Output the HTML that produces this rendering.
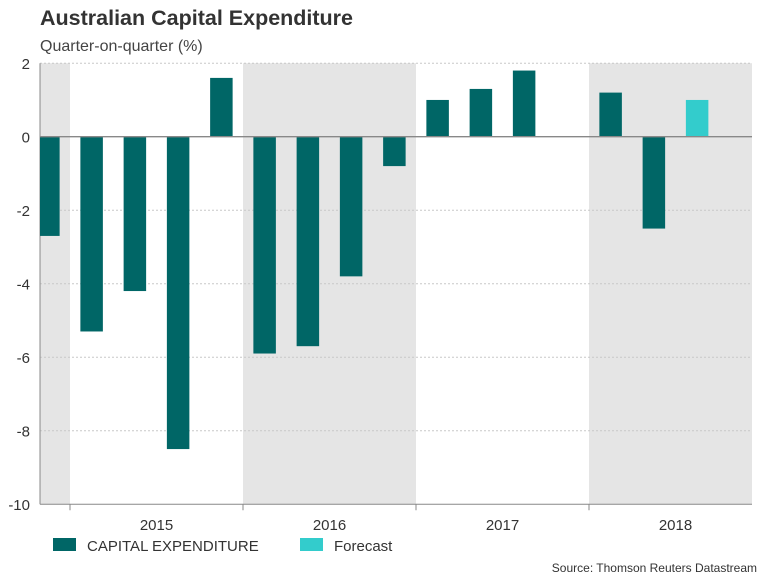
<!DOCTYPE html>
<html><head><meta charset="utf-8"><style>
body{margin:0;background:#fff;font-family:"Liberation Sans",sans-serif;}
svg text{font-family:"Liberation Sans",sans-serif;}
</style></head><body>
<svg width="768" height="576" xmlns="http://www.w3.org/2000/svg">
<defs><clipPath id="pc"><rect x="40" y="0" width="712" height="576"/></clipPath></defs>
<text x="40" y="25" font-size="21.5" font-weight="bold" fill="#333">Australian Capital Expenditure</text>
<text x="40" y="51" font-size="16" fill="#444">Quarter-on-quarter (%)</text>
<g id="plot"></g>
<g>
<rect x="53" y="538" width="23" height="13" fill="#006666"/>
<text x="87" y="551" font-size="15" fill="#333">CAPITAL EXPENDITURE</text>
<rect x="300" y="538" width="23" height="13" fill="#33cccc"/>
<text x="334" y="551" font-size="15" fill="#333">Forecast</text>
</g>
<text x="757" y="572" font-size="12" fill="#333" text-anchor="end">Source: Thomson Reuters Datastream</text>
</svg>
<script>
const quarterIndex=[-1,0,1,2,3,4,5,6,7,8,9,10,12,13];
const capexValues=[-2.7,-5.3,-4.2,-8.5,1.6,-5.9,-5.7,-3.8,-0.8,1.0,1.3,1.8,1.2,-2.5];
const forecastIndex=[14];
const forecastValues=[1.0];
const yTicks=[2,0,-2,-4,-6,-8,-10];
const years=["2015","2016","2017","2018"];
const NS="http://www.w3.org/2000/svg";
const L=40,R=752,Q0=70,QW=43.25,BW=22.5;
function y(v){return 136.7-36.75*v;}
function xq(i){return Q0+QW*(i+0.5);}
const g=document.getElementById('plot');
function mk(t,a){const e=document.createElementNS(NS,t);for(const k in a)e.setAttribute(k,a[k]);g.appendChild(e);return e;}
const bands=[[L,Q0],[Q0+QW*4,Q0+QW*8],[Q0+QW*12,R]];
bands.forEach(b=>{const e=mk('rect',{x:b[0],y:y(2),width:b[1]-b[0],height:y(-10)-y(2),fill:'#e5e5e5'});

});
yTicks.forEach(t=>{
 if(t!==0&&t!==-10){const l=mk('line',{x1:L,x2:R,y1:y(t),y2:y(t),stroke:'#c8c8c8','stroke-dasharray':'2,2'});
 
 }
 const tx=mk('text',{x:L-10,y:y(t)+6,'font-size':15,fill:'#333','text-anchor':'end'});tx.textContent=t;
 
 
});
const yl=mk('line',{x1:L,x2:L,y1:y(2),y2:y(-10),stroke:'#888'});


function bar(i,v,c,n){const top=Math.min(y(v),y(0));const r=mk('rect',{x:xq(i)-BW/2,y:top,width:BW,height:Math.abs(y(v)-y(0)),fill:c,'clip-path':'url(#pc)'});
 
 }
capexValues.forEach((v,k)=>bar(quarterIndex[k],v,'#006666','capex-bar'));
forecastValues.forEach((v,k)=>bar(forecastIndex[k],v,'#33cccc','forecast-bar'));
const z=mk('line',{x1:L,x2:R,y1:y(0),y2:y(0),stroke:'#888','stroke-width':1.3});


const xa=mk('line',{x1:L,x2:R,y1:y(-10),y2:y(-10),stroke:'#888'});


for(let k=0;k<4;k++){const tk=mk('line',{x1:Q0+QW*4*k,x2:Q0+QW*4*k,y1:y(-10),y2:y(-10)+6,stroke:'#888'});
 
 }
years.forEach((yr,k)=>{const tx=mk('text',{x:Q0+QW*(4*k+2),y:y(-10)+26,'font-size':15,fill:'#333','text-anchor':'middle'});tx.textContent=yr;
 
 });
</script>
</body></html>
